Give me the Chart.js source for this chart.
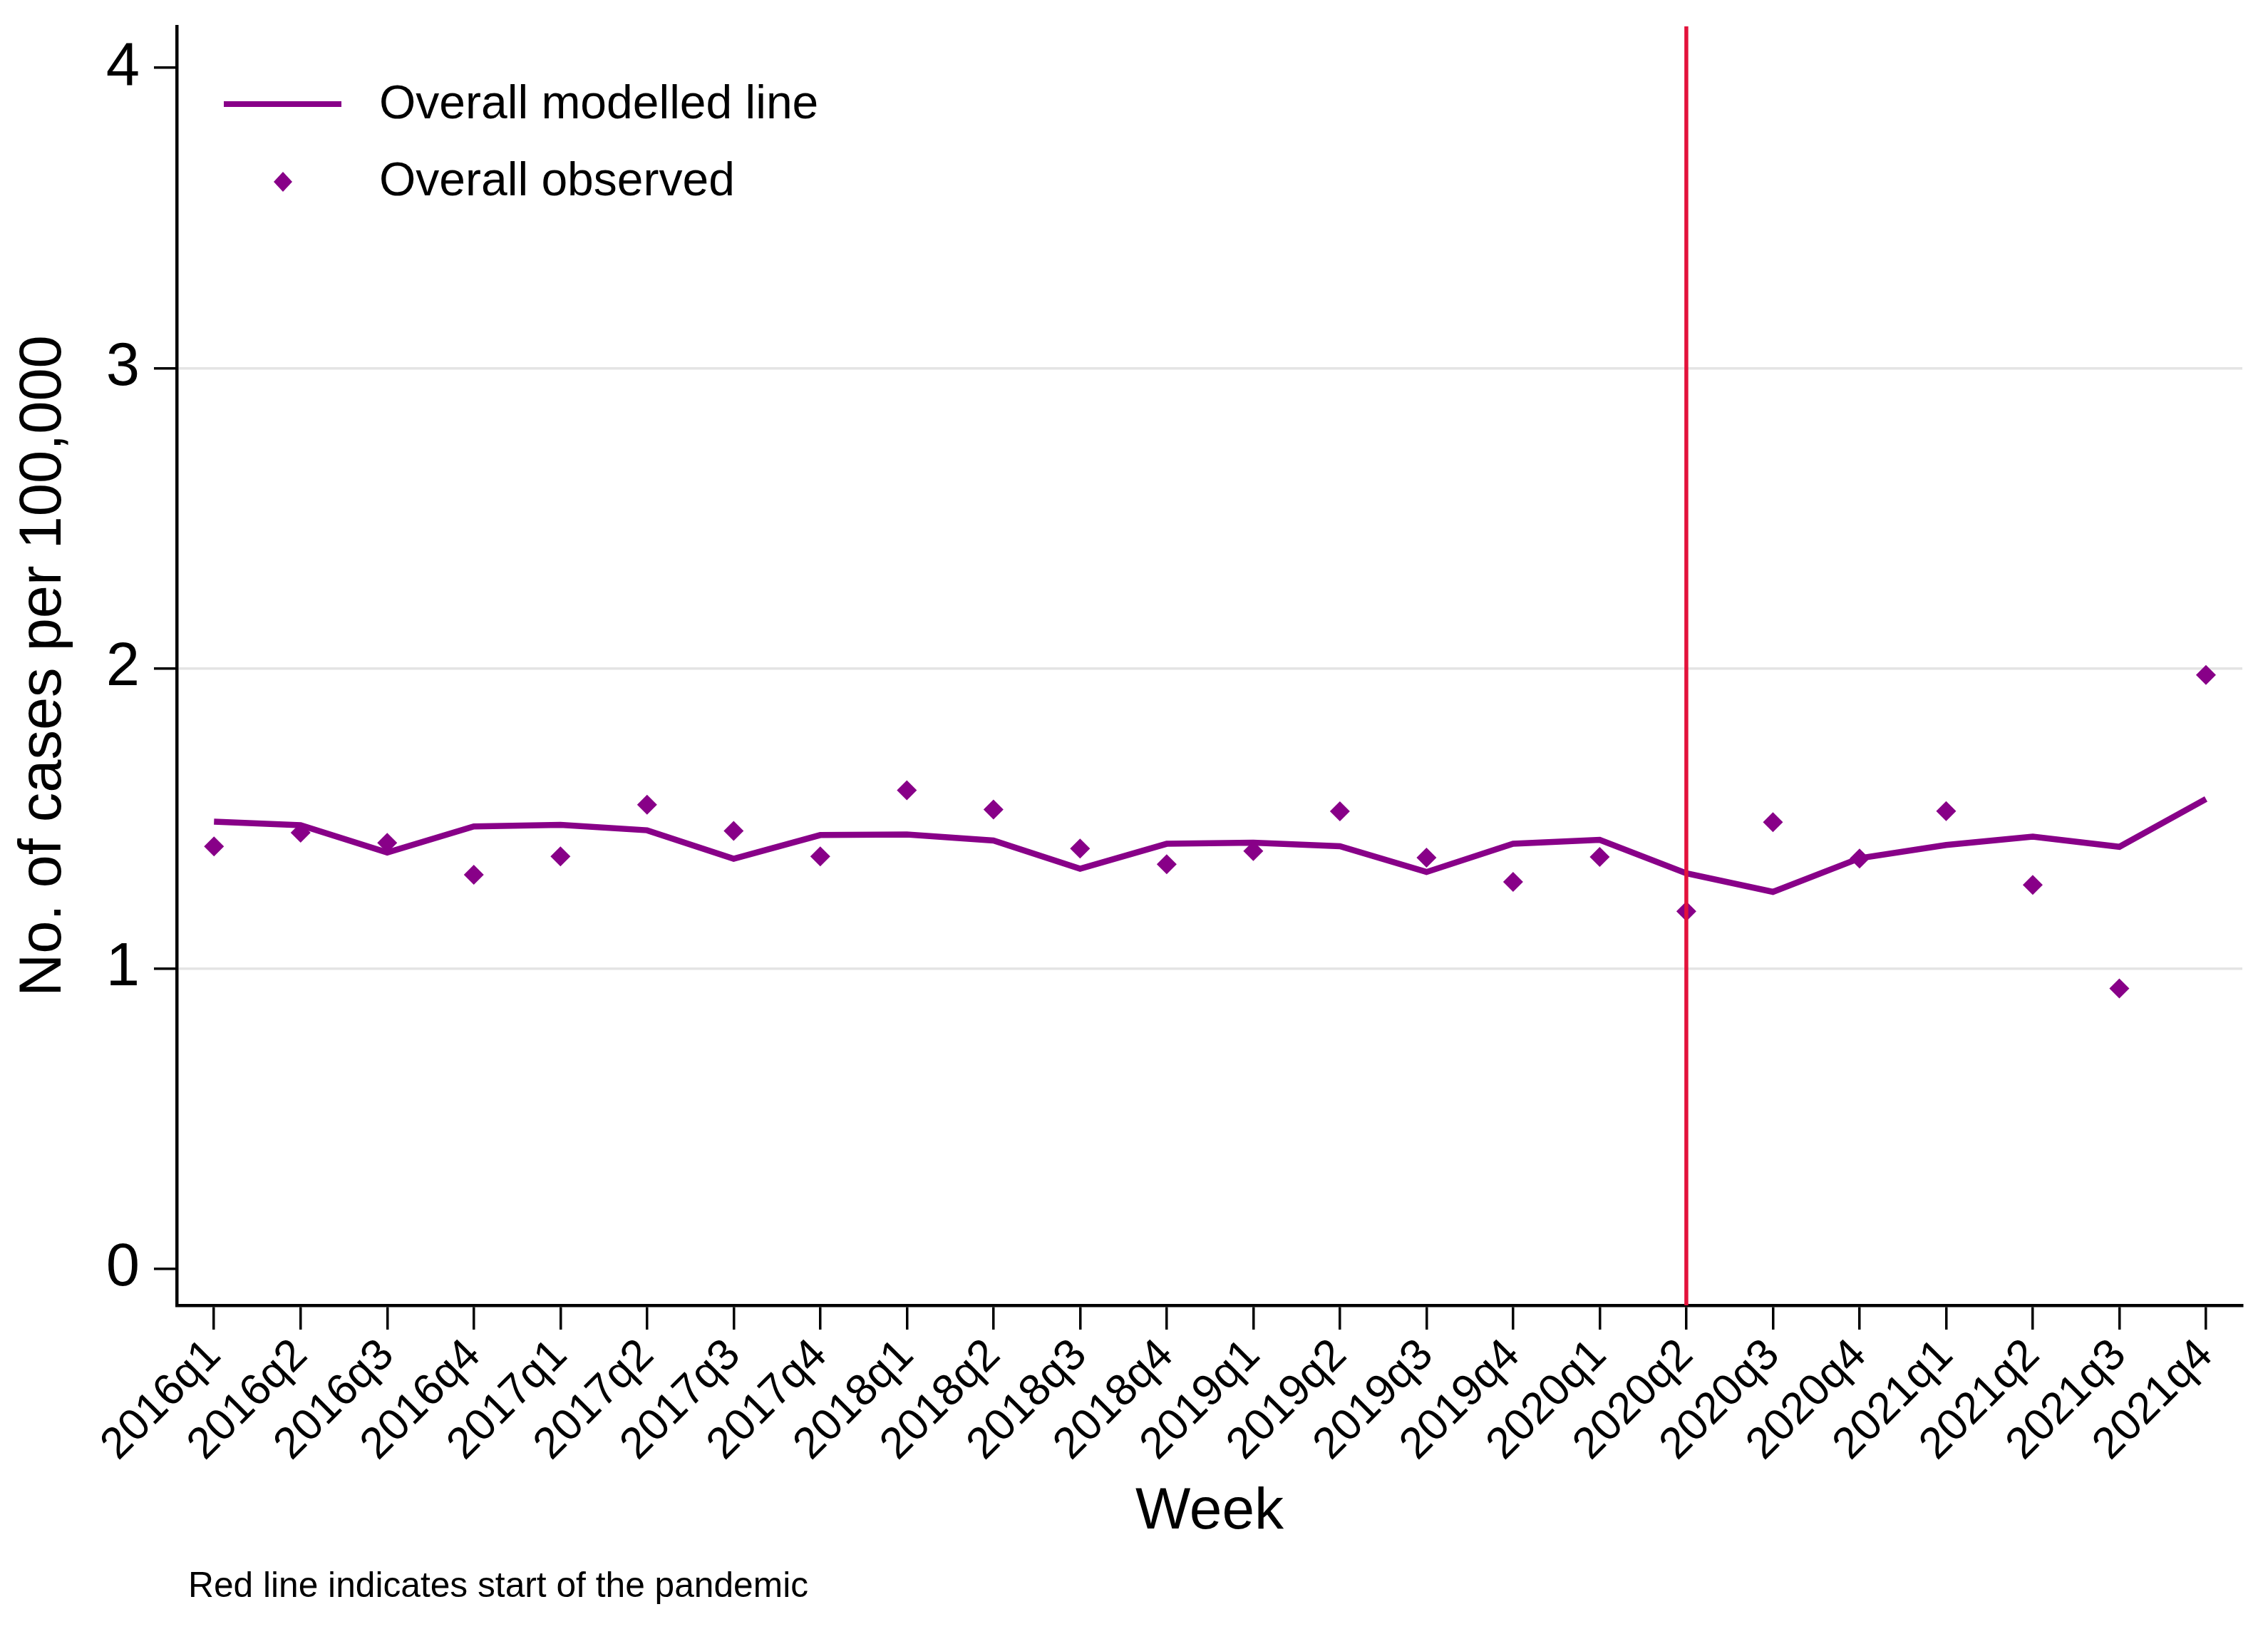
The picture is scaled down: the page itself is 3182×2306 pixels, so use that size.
<!DOCTYPE html>
<html>
<head>
<meta charset="utf-8">
<title>Overall modelled line vs observed</title>
<script src="https://cdn.jsdelivr.net/npm/chart.js@4.4.1/dist/chart.umd.min.js"></script>
<style>
  html, body { margin: 0; padding: 0; background: #fff; overflow: hidden; }
  canvas { display: block; }
</style>
</head>
<body>
<canvas id="grafico" width="3182" height="2306"></canvas>
<script>
// ---------- data ----------
const quarters = [
  "2016q1", "2016q2", "2016q3", "2016q4",
  "2017q1", "2017q2", "2017q3", "2017q4",
  "2018q1", "2018q2", "2018q3", "2018q4",
  "2019q1", "2019q2", "2019q3", "2019q4",
  "2020q1", "2020q2", "2020q3", "2020q4",
  "2021q1", "2021q2", "2021q3", "2021q4"
];
const modelled = [
  1.49, 1.478, 1.387, 1.474,
  1.479, 1.461, 1.366, 1.445,
  1.447, 1.427, 1.333, 1.416,
  1.420, 1.408, 1.322, 1.416,
  1.429, 1.318, 1.256, 1.368,
  1.412, 1.440, 1.406, 1.565
];
const observed = [
  1.407, 1.453, 1.419, 1.313,
  1.374, 1.546, 1.459, 1.374,
  1.594, 1.530, 1.400, 1.348,
  1.392, 1.524, 1.370, 1.289,
  1.372, 1.191, 1.488, 1.367,
  1.525, 1.279, 0.934, 1.978
];
const yTicks = [0, 1, 2, 3, 4];
const pandemicStart = "2020q2";
const footnote = "Red line indicates start of the pandemic";

const FONT = "'Liberation Sans', Arial, Helvetica, sans-serif";
const PURPLE = "#880088";
const RED = "#e3123b";

// ---------- plugins ----------
const pandemicLine = {
  id: "pandemicLine",
  afterDatasetsDraw(chart) {
    const { ctx, chartArea, scales } = chart;
    const x = scales.x.getPixelForValue(quarters.indexOf(pandemicStart));
    ctx.save();
    ctx.strokeStyle = RED;
    ctx.lineWidth = 5.5;
    ctx.beginPath();
    ctx.moveTo(x, chartArea.top);
    ctx.lineTo(x, chartArea.bottom);
    ctx.stroke();
    ctx.restore();
  }
};

const legendInside = {
  id: "legendInside",
  afterDraw(chart) {
    const ctx = chart.ctx;
    ctx.save();
    // line sample
    ctx.strokeStyle = PURPLE;
    ctx.lineWidth = 8;
    ctx.beginPath();
    ctx.moveTo(314, 146);
    ctx.lineTo(479, 146);
    ctx.stroke();
    // diamond sample
    ctx.fillStyle = PURPLE;
    ctx.beginPath();
    ctx.moveTo(397, 241);
    ctx.lineTo(410, 255);
    ctx.lineTo(397, 269);
    ctx.lineTo(384, 255);
    ctx.closePath();
    ctx.fill();
    // texts
    ctx.fillStyle = "#000";
    ctx.font = "66px " + FONT;
    ctx.textAlign = "left";
    ctx.textBaseline = "middle";
    ctx.fillText(chart.data.datasets[0].label, 532, 148);
    ctx.fillText(chart.data.datasets[1].label, 532, 256);
    // footnote
    ctx.font = "49.7px " + FONT;
    ctx.textBaseline = "alphabetic";
    ctx.fillText(footnote, 264, 2240);
    ctx.restore();
  }
};

// ---------- chart ----------
new Chart(document.getElementById("grafico"), {
  type: "line",
  data: {
    datasets: [
      {
        label: "Overall modelled line",
        data: modelled.map((v, i) => ({ x: i, y: v })),
        borderColor: PURPLE,
        borderWidth: 8.5,
        pointRadius: 0,
        tension: 0,
        fill: false
      },
      {
        label: "Overall observed",
        data: observed.map((v, i) => ({ x: i, y: v })),
        showLine: false,
        pointStyle: "rectRot",
        pointRadius: 14,
        pointBackgroundColor: PURPLE,
        pointBorderColor: PURPLE,
        pointBorderWidth: 0
      }
    ]
  },
  options: {
    responsive: false,
    animation: false,
    devicePixelRatio: 1,
    layout: { padding: { top: 37, right: 36, left: 0, bottom: 0 } },
    plugins: {
      legend: { display: false },
      tooltip: { enabled: false }
    },
    scales: {
      x: {
        type: "linear",
        min: -0.43,
        max: 23.42,
        afterBuildTicks: s => { s.ticks = quarters.map((q, i) => ({ value: i })); },
        afterFit: s => { s.height = 475; s.paddingLeft = 0; s.paddingRight = 0; },
        border: { color: "#000", width: 4.5 },
        grid: { drawOnChartArea: false, color: "#000", tickColor: "#000", tickLength: 34, lineWidth: 3.5 },
        ticks: {
          autoSkip: false,
          maxRotation: 45,
          minRotation: 45,
          padding: 0,
          color: "#000",
          font: { family: FONT, size: 62 },
          callback: v => quarters[v]
        },
        title: {
          display: true,
          text: "Week",
          color: "#000",
          font: { family: FONT, size: 82, lineHeight: 1.2 },
          padding: { top: 0, bottom: 135 }
        }
      },
      y: {
        min: -0.121,
        max: 4.138,
        afterBuildTicks: s => { s.ticks = yTicks.map(v => ({ value: v })); },
        afterFit: s => { s.width = 248; s.paddingTop = 0; s.paddingBottom = 0; },
        border: { color: "#000", width: 4.5 },
        grid: {
          color: c => (c.tick && c.tick.value > 0 && c.tick.value < 4) ? "#e4e4e4" : "rgba(0,0,0,0)",
          tickColor: "#000",
          tickLength: 32,
          lineWidth: 3.5
        },
        ticks: {
          padding: 20,
          color: "#000",
          font: { family: FONT, size: 85 }
        },
        title: {
          display: true,
          text: "No. of cases per 100,000",
          color: "#000",
          font: { family: FONT, size: 83, lineHeight: 1.2 },
          padding: { top: 12, bottom: 0 }
        }
      }
    }
  },
  plugins: [pandemicLine, legendInside]
});
</script>
</body>
</html>
